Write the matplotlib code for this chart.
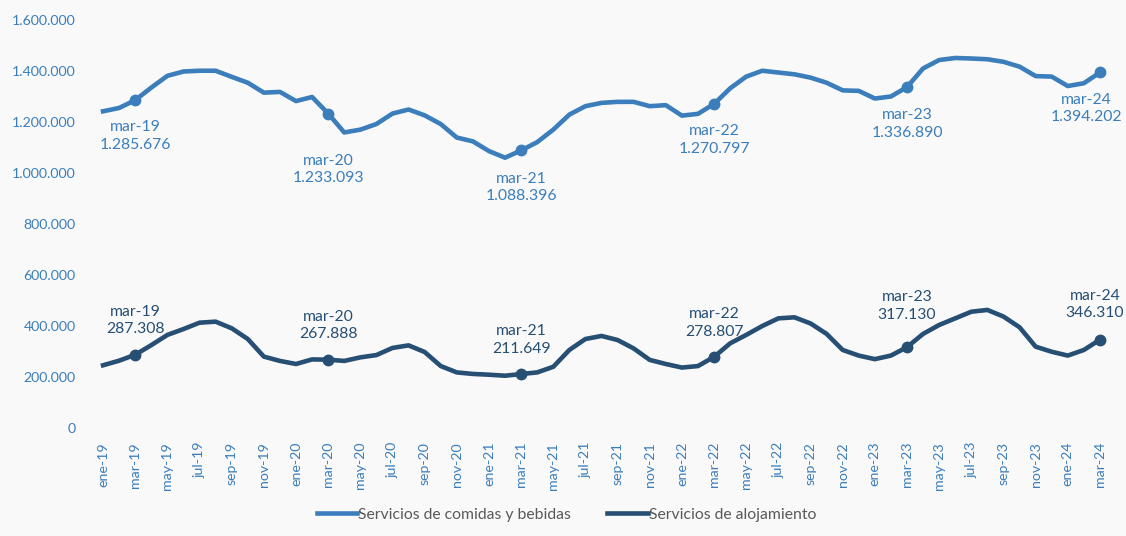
import matplotlib
matplotlib.use("Agg")
import matplotlib.pyplot as plt
from matplotlib.ticker import FuncFormatter

meses = ["ene", "feb", "mar", "abr", "may", "jun", "jul", "ago", "sep", "oct", "nov", "dic"]
anios = ["19", "20", "21", "22", "23", "24"]
periodos = [m + "-" + a for a in anios for m in meses][:63]   # ene-19 .. mar-24

comidas = [1242000, 1255000, 1285676, 1335000, 1381000, 1398000, 1401000, 1401000, 1377000, 1354000, 1315000, 1318000,
           1282000, 1298000, 1233093, 1159000, 1170000, 1192000, 1233000, 1249000, 1226000, 1192000, 1139000, 1124000,
           1086000, 1060000, 1088396, 1121000, 1170000, 1229000, 1262000, 1275000, 1279000, 1279000, 1262000, 1266000,
           1225000, 1232000, 1270797, 1332000, 1378000, 1401000, 1394000, 1387000, 1374000, 1354000, 1324000, 1322000,
           1292000, 1300000, 1336890, 1410000, 1443000, 1451000, 1449000, 1446000, 1436000, 1417000, 1380000, 1378000,
           1341000, 1352000, 1394202]

alojamiento = [246000, 264000, 287308, 325000, 365000, 388000, 413000, 417000, 391000, 349000, 280000, 263000,
               251000, 269000, 267888, 263000, 277000, 286000, 314000, 324000, 298000, 243000, 218000, 212000,
               209000, 205000, 211649, 218000, 240000, 306000, 349000, 361000, 345000, 312000, 267000, 251000,
               237000, 243000, 278807, 332000, 365000, 400000, 430000, 434000, 410000, 369000, 306000, 284000,
               270000, 284000, 317130, 369000, 404000, 430000, 456000, 463000, 437000, 395000, 319000, 299000,
               284000, 306000, 346310]

destacados = ["mar-19", "mar-20", "mar-21", "mar-22", "mar-23", "mar-24"]

azul = "#3B7EBB"
marino = "#264F73"
fondo = "#F9F9F9"

plt.rcParams["font.family"] = ["Lato", "DejaVu Sans"]

fig = plt.figure(figsize=(11.26, 5.36), dpi=100, facecolor=fondo)
ax = fig.add_axes([0.0844, 0.2015, 0.8996, 0.7612])
ax.set_facecolor(fondo)

x = list(range(len(periodos)))
ax.plot(x, comidas, color=azul, lw=3.3, solid_joinstyle="round", label="Servicios de comidas y bebidas")
ax.plot(x, alojamiento, color=marino, lw=3.3, solid_joinstyle="round", label="Servicios de alojamiento")

fmt = lambda v: f"{v:,.0f}".replace(",", ".")

# desplazamientos de las etiquetas (pixeles)
off_sup = [(0, -36), (0, -56), (0, -37), (0, -36), (0, -37), (-14, -36)]
off_inf = [(0, 34), (0, 34), (0, 34), (0, 34), (0, 41), (-5, 35)]

for i, p in enumerate(destacados):
    k = periodos.index(p)
    ax.plot(k, comidas[k], "o", color=azul, ms=7.5)
    ax.plot(k, alojamiento[k], "o", color=marino, ms=7.5)
    ax.annotate(p + "\n" + fmt(comidas[k]), (k, comidas[k]), xytext=off_sup[i],
                textcoords="offset pixels", ha="center", va="center",
                color=azul, fontsize=11.3, linespacing=1.3)
    ax.annotate(p + "\n" + fmt(alojamiento[k]), (k, alojamiento[k]), xytext=off_inf[i],
                textcoords="offset pixels", ha="center", va="center",
                color=marino, fontsize=11.3, linespacing=1.3)

ax.set_xlim(-0.5, len(periodos) - 0.5)
ax.set_ylim(0, 1600000)
ax.set_yticks(range(0, 1600001, 200000))
ax.yaxis.set_major_formatter(FuncFormatter(lambda v, _: fmt(v)))
ax.set_xticks(x[::2])
ax.set_xticklabels(periodos[::2], rotation=90)
ax.tick_params(axis="both", length=0, colors=azul, labelsize=10.2)
ax.tick_params(axis="y", pad=14)
ax.tick_params(axis="x", pad=10)
for s in ax.spines.values():
    s.set_visible(False)

leg = fig.legend(loc="lower center", bbox_to_anchor=(0.503, 0.0), ncol=2, frameon=False,
                 fontsize=11.3, handlelength=2.6, handletextpad=0.05, columnspacing=2.3)
for t in leg.get_texts():
    t.set_color("#595959")

fig.savefig("out.png", dpi=100, facecolor=fondo)
